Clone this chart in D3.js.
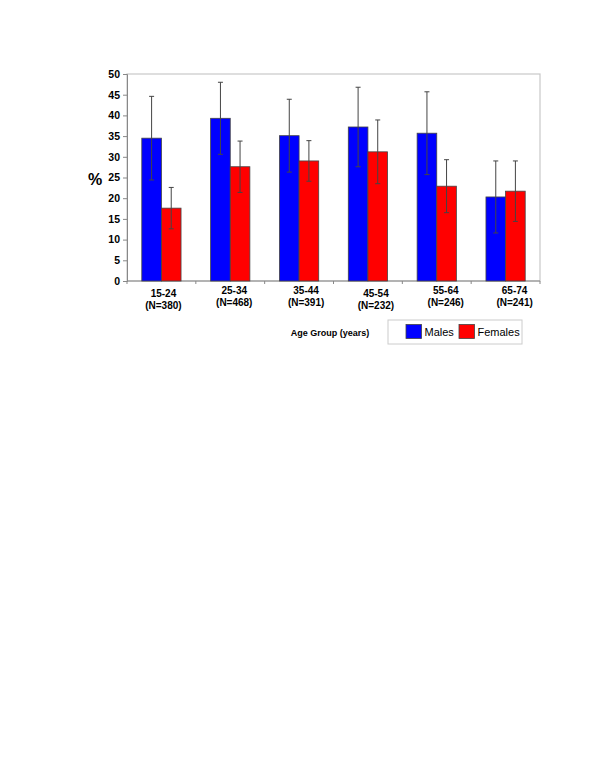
<!DOCTYPE html>
<html><head><meta charset="utf-8">
<script src="https://cdn.jsdelivr.net/npm/d3@7/dist/d3.min.js"></script>
<style>body{margin:0;background:#fff}svg{display:block}</style>
</head><body>
<script>
const categories = ["15-24","25-34","35-44","45-54","55-64","65-74"];
const sampleSizes = ["(N=380)","(N=468)","(N=391)","(N=232)","(N=246)","(N=241)"];
const males = [34.5, 39.3, 35.1, 37.2, 35.7, 20.3];
const malesErr = [10.1, 8.7, 8.8, 9.6, 10.0, 8.7];
const females = [17.6, 27.6, 29.0, 31.2, 22.9, 21.7];
const femalesErr = [5.0, 6.2, 4.9, 7.7, 6.4, 7.3];
const yTicks = [0,5,10,15,20,25,30,35,40,45,50];
const seriesNames = ["Males","Females"];
const colors = ["#0000ff","#ff0000"];

(function(){
const W=600,H=777;
const svg=d3.select("body").append("svg").attr("width",W).attr("height",H);
const pl=127,pr=540,pt=74,pb=281;
const x=d3.scaleBand().domain(categories).range([pl,pr]).paddingInner(0.43).paddingOuter(0.215);
const xs=d3.scaleBand().domain(seriesNames).range([0,x.bandwidth()]);
const y=d3.scaleLinear().domain([0,50]).range([pb,pt]);
const font="'Liberation Sans', Arial, sans-serif";

svg.append("rect").attr("x",pl).attr("y",pt).attr("width",pr-pl).attr("height",pb-pt)
  .attr("fill","none").attr("stroke","#c8c8c8").attr("stroke-width",1.2);

const ya=svg.append("g").attr("transform",`translate(${pl},0)`)
  .call(d3.axisLeft(y).tickValues(yTicks).tickSize(4).tickPadding(3));
ya.select(".domain").attr("stroke","#888");
ya.selectAll(".tick line").attr("stroke","#888");
ya.selectAll("text").attr("font-family",font).attr("font-size",10.5).attr("font-weight","bold").attr("fill","#000");

svg.append("line").attr("x1",pl).attr("x2",pr).attr("y1",pb).attr("y2",pb).attr("stroke","#888");
d3.range(7).forEach(i=>{
  const xx=pl+i*(pr-pl)/6;
  svg.append("line").attr("x1",xx).attr("x2",xx).attr("y1",pb).attr("y2",pb+3).attr("stroke","#888");
});

const data=[males,females], errs=[malesErr,femalesErr];
seriesNames.forEach((s,si)=>{
  const g=svg.append("g");
  g.selectAll("rect").data(categories).join("rect")
    .attr("x",c=>x(c)+xs(s)).attr("width",xs.bandwidth())
    .attr("y",(c,i)=>y(data[si][i])).attr("height",(c,i)=>y(0)-y(data[si][i]))
    .attr("fill",colors[si]).attr("stroke","#444").attr("stroke-width",0.8);
  categories.forEach((c,i)=>{
    const cx=x(c)+xs(s)+xs.bandwidth()/2;
    const v=data[si][i], e=errs[si][i];
    g.append("line").attr("x1",cx).attr("x2",cx).attr("y1",y(v+e)).attr("y2",y(v-e)).attr("stroke","#444").attr("stroke-width",1);
    [v+e,v-e].forEach(t=>g.append("line").attr("x1",cx-2.5).attr("x2",cx+2.5).attr("y1",y(t)).attr("y2",y(t)).attr("stroke","#444").attr("stroke-width",1));
  });
});

const yOff=[3,0,0,3,0,0];
const xOff=[2,4,7,8,9,9];
categories.forEach((c,i)=>{
  const cx=x(c)+x.bandwidth()/2+xOff[i];
  const t=svg.append("text").attr("x",cx).attr("y",294+yOff[i]).attr("text-anchor","middle")
    .attr("font-family",font).attr("font-size",10).attr("font-weight","bold");
  t.append("tspan").attr("x",cx).attr("dy",0).text(c);
  t.append("tspan").attr("x",cx).attr("dy",11.5).text(sampleSizes[i]);
});

svg.append("text").attr("x",95).attr("y",185).attr("text-anchor","middle")
  .attr("font-family",font).attr("font-size",16).attr("font-weight","bold").text("%");

svg.append("text").attr("x",330).attr("y",336).attr("text-anchor","middle")
  .attr("font-family",font).attr("font-size",9).attr("font-weight","bold").text("Age Group (years)");

const lg=svg.append("g");
lg.append("rect").attr("x",388).attr("y",320).attr("width",134).attr("height",24).attr("fill","#fff").attr("stroke","#ccc");
const lx=[406,459];
seriesNames.forEach((s,i)=>{
  lg.append("rect").attr("x",lx[i]).attr("y",324.5).attr("width",15.5).attr("height",14).attr("fill",colors[i]).attr("stroke","#444").attr("stroke-width",0.8);
  lg.append("text").attr("x",lx[i]+18.5).attr("y",335.5).attr("font-family",font).attr("font-size",11).text(s);
});
})();
</script>
</body></html>
